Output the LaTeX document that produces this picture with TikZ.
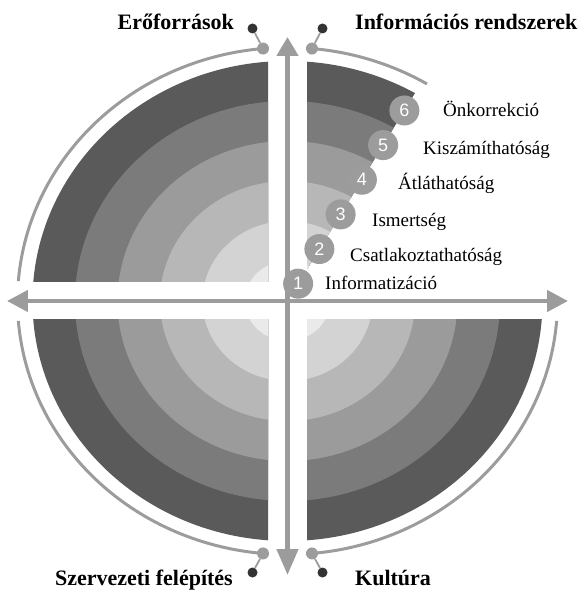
\documentclass[tikz,border=0pt]{standalone}
\usepackage{fontspec}
\setmainfont{Liberation Serif}
\newfontfamily\digitfont{Liberation Sans}
\usetikzlibrary{arrows.meta, positioning}
\definecolor{ringA}{HTML}{EAEAEA}
\definecolor{ringB}{HTML}{D3D3D3}
\definecolor{ringC}{HTML}{B7B7B7}
\definecolor{ringD}{HTML}{9B9B9B}
\definecolor{ringE}{HTML}{7B7B7B}
\definecolor{ringF}{HTML}{5A5A5A}
\definecolor{axisgray}{HTML}{9C9C9C}
\definecolor{dotdark}{HTML}{333333}
\newcommand{\ringset}{%
  \foreach \k/\col in {6/ringF,5/ringE,4/ringD,3/ringC,2/ringB,1/ringA}
    \fill[\col] (0,0) ellipse [x radius={42.5*\k}, y radius={40*\k}];%
}
\tikzset{
  axis/.style={
    line width=4.5pt,
    draw=axisgray
  },
  rim/.style={
    line width=3pt,
    draw=axisgray
  },
  graydot/.style={
    circle,
    fill=axisgray,
    minimum size=12pt,
    inner sep=0pt
  },
  darkdot/.style={
    circle,
    fill=dotdark,
    minimum size=10pt,
    inner sep=0pt
  },
  link/.style={
    line width=1.8pt,
    draw=axisgray
  },
  numdot/.style={
    circle,
    fill=axisgray,
    minimum size=30pt,
    inner sep=0pt,
    text=white,
    font=\digitfont\fontsize{18}{18}\selectfont
  },
  lbl/.style={
    font=\fontsize{19}{22}\selectfont,
    inner sep=0pt,
    anchor=base west
  },
  title/.style={
    font=\bfseries\fontsize{22}{26}\selectfont,
    inner sep=0pt
  }
}

\begin{document}
\begin{tikzpicture}[x=1pt, y=1pt]
\useasboundingbox (-287.5,-292) rectangle (295.5,301);

% quarters of rings
\begin{scope}
  \clip (-300,19) rectangle (-19.5,300);
  \ringset
\end{scope}
\begin{scope}
  \clip (-300,-19) rectangle (-19.5,-300);
  \ringset
\end{scope}
\begin{scope}
  \clip (19.5,-19) rectangle (300,-300);
  \ringset
\end{scope}
\begin{scope}
  \clip (19.5,31.8) -- (19.5,300) -- (184,300) -- cycle;
  \ringset
\end{scope}

% axes
\coordinate (W) at (-280.5,0);
\coordinate (E) at (280.5,0);
\coordinate (N) at (0,264);
\coordinate (S) at (0,-274);
\draw[axis, {Triangle[length=21pt,width=21pt]}-{Triangle[length=21pt,width=21pt]}] (W) -- (E);
\draw[axis, {Triangle[length=19pt,width=21pt]}-{Triangle[length=26pt,width=21pt]}] (N) -- (S);

% outer rims
\coordinate (aTL) at (95.2:270 and 253.5);
\coordinate (aTR) at (84.8:270 and 253.5);
\coordinate (aBL) at (264.8:270 and 253.5);
\coordinate (aBR) at (275.2:270 and 253.5);
\draw[rim] (aTL) arc[start angle=95.2, end angle=175.5, x radius=270, y radius=253.5];
\draw[rim] (aTR) arc[start angle=84.8, end angle=58.9, x radius=270, y radius=253.5];
\draw[rim] (aBL) arc[start angle=264.8, end angle=184.5, x radius=270, y radius=253.5];
\draw[rim] (aBR) arc[start angle=275.2, end angle=355.5, x radius=270, y radius=253.5];

% dots and titles
\node[graydot] (gTL) at (aTL) {};
\node[graydot] (gTR) at (aTR) {};
\node[graydot] (gBL) at (aBL) {};
\node[graydot] (gBR) at (aBR) {};
\node[darkdot] (dTL) at (-35,272.5) {};
\node[darkdot] (dTR) at (35,272.5) {};
\node[darkdot] (dBL) at (-35,-271.5) {};
\node[darkdot] (dBR) at (35,-271.5) {};
\draw[link] (gTL) -- (dTL);
\draw[link] (gTR) -- (dTR);
\draw[link] (gBL) -- (dBL);
\draw[link] (gBR) -- (dBR);

\node[title, anchor=base east] (res) at (-53.5,271) {Erőforrások};
\node[title, anchor=base west] (info) at (67.5,271) {Információs rendszerek};
\node[title, anchor=base east] (org) at (-54.5,-284) {Szervezeti felépítés};
\node[title, anchor=base west] (cult) at (67.5,-284) {Kultúra};

% steps
\foreach \k in {1,...,6}
  \node[numdot] (c\k) at ({(\k-0.5)*21.25},{(\k-0.5)*34.64}) {\k};

\node[lbl] (l1) at (37.5,11) {Informatizáció};
\node[lbl] (l2) at (62.5,39.3) {Csatlakoztathatóság};
\node[lbl] (l3) at (84.5,74.3) {Ismertség};
\node[lbl] (l4) at (110.5,111) {Átláthatóság};
\node[lbl] (l5) at (135.5,146) {Kiszámíthatóság};
\node[lbl] (l6) at (155.5,184.3) {Önkorrekció};
\end{tikzpicture}
\end{document}
